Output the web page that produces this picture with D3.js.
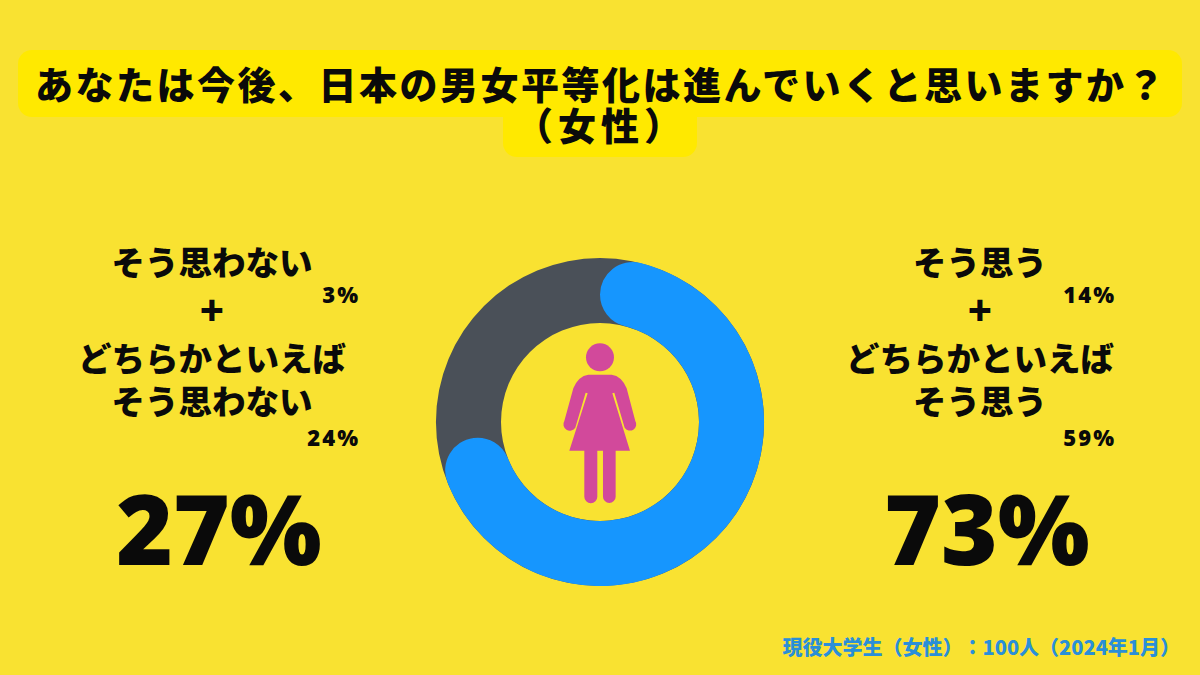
<!DOCTYPE html>
<html>
<head>
<meta charset="utf-8">
<script src="https://cdn.jsdelivr.net/npm/d3@7"></script>
<style>
  html, body { margin: 0; padding: 0; background: #f9e231; }
  text { font-family: "Noto Sans CJK JP", "Noto Sans", sans-serif; font-weight: 900; fill: #0a0a0a; text-spacing-trim: space-all; }
  .latin { font-family: "Open Sans", "Noto Sans", sans-serif; font-weight: 800; }
</style>
</head>
<body>
<div id="draw-space"></div>
<script>
const titleLines = ['あなたは今後、日本の男女平等化は進んでいくと思いますか？', '（女性）'];
const donutLabels = ['そう思う計', 'そう思わない計'];
const donutValues = [73, 27];
const donutColors = ['#1696fe', '#4a5058'];
const leftLines = ['そう思わない', '+', 'どちらかといえば', 'そう思わない'];
const rightLines = ['そう思う', '+', 'どちらかといえば', 'そう思う'];
const leftParts = ['3%', '24%'];
const rightParts = ['14%', '59%'];
const leftTotal = '27%';
const rightTotal = '73%';
const footnote = '現役大学生（女性）：100人（2024年1月）';

const svg = d3.select('#draw-space').append('svg')
              .attr('width', 1200)
              .attr('height', 675)
              .style('display', 'block');

svg.append('rect')
   .attr('width', 1200)
   .attr('height', 675)
   .attr('fill', '#f9e231');

// title highlight
svg.append('rect')
   .attr('x', 18).attr('y', 50)
   .attr('width', 1164).attr('height', 67)
   .attr('rx', 14)
   .attr('fill', '#ffe900');

svg.append('rect')
   .attr('x', 503).attr('y', 100)
   .attr('width', 194).attr('height', 57)
   .attr('rx', 14)
   .attr('fill', '#ffe900');

svg.selectAll('.title')
   .data(titleLines)
   .enter()
   .append('text')
   .attr('class', 'title')
   .attr('x', 601)
   .attr('y', (d, i) => 99 + i * 41)
   .attr('text-anchor', 'middle')
   .attr('font-size', 38)
   .style('letter-spacing', (d, i) => i ? '5px' : '2.5px')
   .text(d => d);

// donut
const center = svg.append('g').attr('transform', 'translate(600,422)');
const outer = 164, inner = 99;

const pie = d3.pie().sort(null)(donutValues);
const arc = d3.arc().innerRadius(inner).outerRadius(outer);

// grey runs under the rounded blue ends, so it is a full ring
center.append('path')
      .attr('d', arc({startAngle: 0, endAngle: 2 * Math.PI}))
      .attr('fill', donutColors[1]);

center.append('path')
      .attr('d', arc.cornerRadius((outer - inner) / 2)(pie[0]))
      .attr('fill', donutColors[0]);

// woman icon, drawn in the 3x crop coordinates
const icon = svg.append('g')
                .attr('transform', 'translate(420,240) scale(0.3333)')
                .attr('fill', '#d2499b');

icon.append('circle').attr('cx', 540).attr('cy', 352).attr('r', 42);

icon.append('path')
    .attr('d', 'M505 404 L575 404 Q605 408 620 445 L646 543 A17 17 0 0 1 614 563 L583 458 L577 460 ' +
               'L630 632 L587 632 L587 770 A19 19 0 0 1 549 770 L549 632 L532 632 L532 770 A19 19 0 0 1 493 770 L493 632 L448 632 ' +
               'L503 460 L497 458 L466 563 A17 17 0 0 1 433 543 L460 445 Q475 408 505 404 Z');

// text blocks
function block(cx, lines, parts, total, partX) {
  const ys = [275, 325, 371, 414];
  svg.selectAll(null)
     .data(lines)
     .enter()
     .append('text')
     .attr('x', cx)
     .attr('y', (d, i) => ys[i])
     .attr('text-anchor', 'middle')
     .attr('font-size', d => d === '+' ? 39 : 33.5)
     .text(d => d);

  svg.selectAll(null)
     .data(parts)
     .enter()
     .append('text')
     .attr('class', 'latin')
     .attr('x', partX)
     .attr('y', (d, i) => [303, 446][i])
     .attr('text-anchor', 'end')
     .attr('font-size', 22)
     .style('letter-spacing', '2px')
     .text(d => d);

  svg.append('text')
     .attr('class', 'latin')
     .attr('x', cx + 7)
     .attr('y', 565)
     .attr('text-anchor', 'middle')
     .attr('font-size', 97)
     .text(total);
}

block(212, leftLines, leftParts, leftTotal, 360);
block(980, rightLines, rightParts, rightTotal, 1116);

svg.append('text')
   .attr('x', 1180)
   .attr('y', 655)
   .attr('text-anchor', 'end')
   .attr('font-size', 20)
   .style('fill', '#2a8fd8')
   .text(footnote);
</script>
</body>
</html>
